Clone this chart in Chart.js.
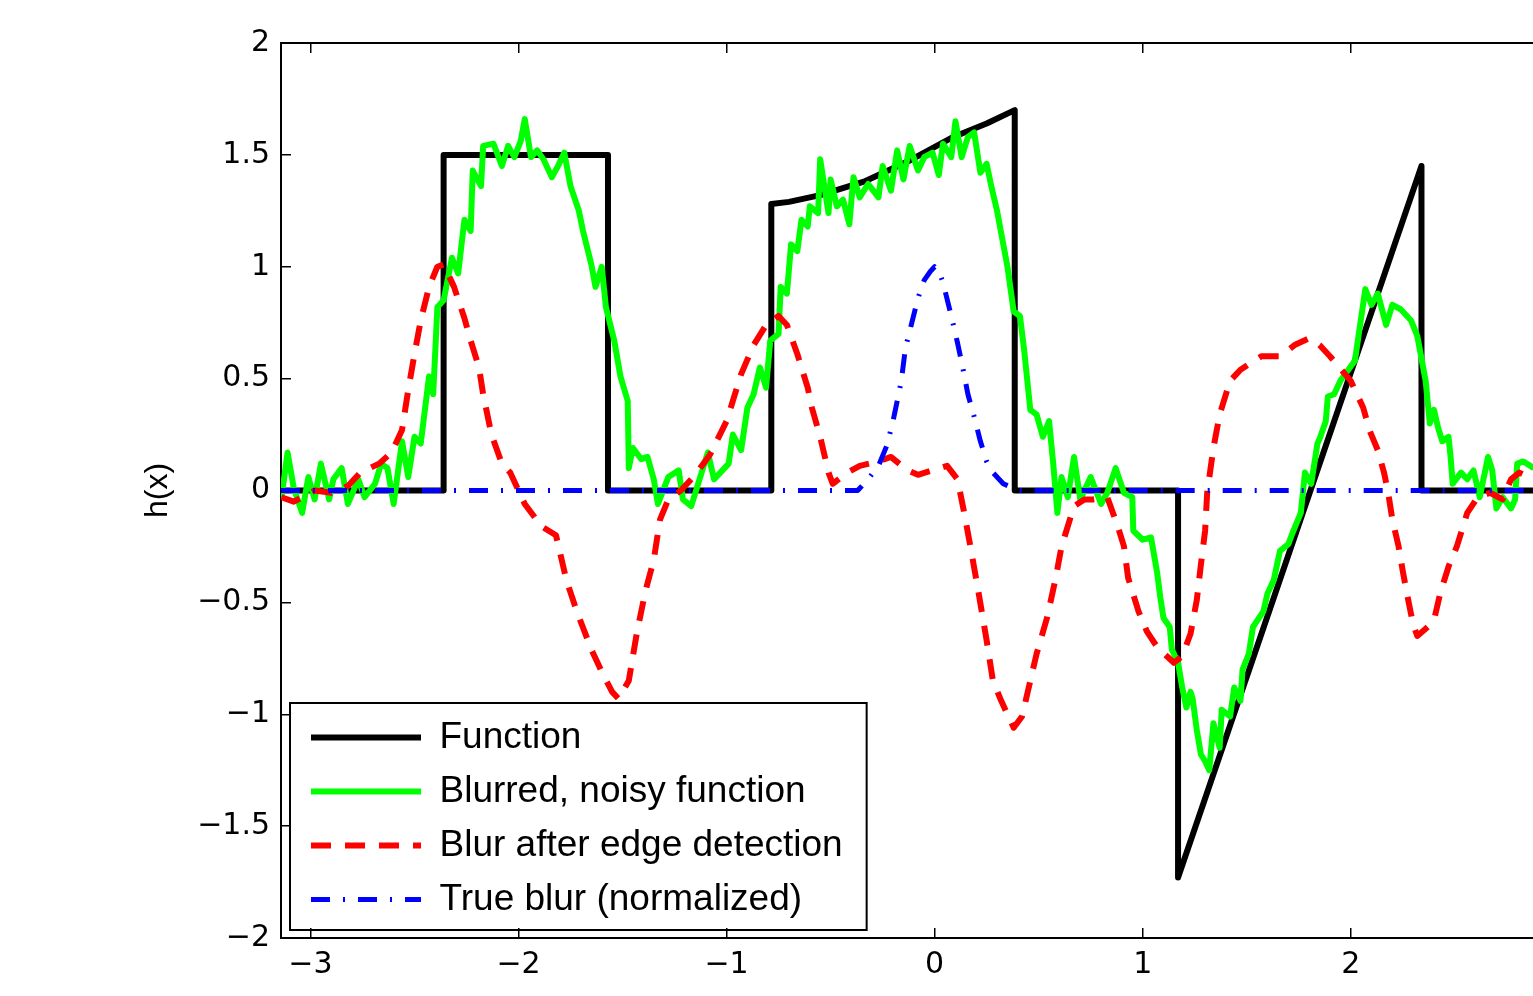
<!DOCTYPE html>
<html>
<head>
<meta charset="utf-8">
<title>Blur and edge detection</title>
<script src="https://cdn.jsdelivr.net/npm/chart.js@4.4.1/dist/chart.umd.min.js"></script>
<style>
    html, body { margin: 0; padding: 0; background: #fff; overflow: hidden; }
    #wrap { position: relative; width: 1533px; height: 996px; }
</style>
</head>
<body>
<div id="wrap"><canvas id="chart"></canvas></div>
<script>
// Axis range: the frame starts at -pi, the window crops it on the right
const xMin = -Math.PI;
const xMax = 2.876;
const xTicks = [-3, -2, -1, 0, 1, 2];
const yTicks = [-2, -1.5, -1, -0.5, 0, 0.5, 1, 1.5, 2];

const seriesNames = ['Function', 'Blurred, noisy function', 'Blur after edge detection', 'True blur (normalized)'];

// Function (piecewise)
const funcX = [-3.1416, -2.36, -2.36, -1.57, -1.57, -0.785, -0.785, -0.70, -0.55, -0.34, -0.13, 0.09, 0.25, 0.385, 0.385, 1.17, 1.17, 2.34, 2.34, 3.1416];
const funcY = [0, 0, 1.5, 1.5, 0, 0, 1.28, 1.29, 1.32, 1.38, 1.47, 1.58, 1.64, 1.70, 0, 0, -1.73, 1.45, 0, 0];

// Blurred, noisy function
const noisyX = [-3.14, -3.11, -3.08, -3.04, -3.01, -2.98, -2.95, -2.91, -2.89, -2.85, -2.82, -2.77, -2.74, -2.69, -2.66, -2.63, -2.60, -2.56, -2.53, -2.50,
    -2.47, -2.43, -2.41, -2.39, -2.36, -2.32, -2.29, -2.26, -2.23, -2.22, -2.18, -2.17, -2.12, -2.08, -2.05, -2.02, -1.99, -1.97, -1.94, -1.91,
    -1.88, -1.84, -1.81, -1.78, -1.75, -1.71, -1.69, -1.65, -1.63, -1.60, -1.58, -1.54, -1.51, -1.475, -1.47, -1.45, -1.41, -1.38, -1.35, -1.33,
    -1.28, -1.23, -1.21, -1.17, -1.12, -1.09, -1.06, -1.03, -0.99, -0.97, -0.93, -0.90, -0.87, -0.84, -0.81, -0.79, -0.75, -0.74, -0.71, -0.69,
    -0.66, -0.64, -0.61, -0.60, -0.56, -0.55, -0.51, -0.50, -0.47, -0.44, -0.41, -0.39, -0.36, -0.32, -0.27, -0.25, -0.21, -0.18, -0.15, -0.12,
    -0.08, -0.05, -0.01, 0.02, 0.04, 0.08, 0.10, 0.13, 0.16, 0.19, 0.22, 0.25, 0.27, 0.30, 0.32, 0.35, 0.38, 0.41, 0.43, 0.46,
    0.49, 0.52, 0.55, 0.57, 0.59, 0.61, 0.64, 0.67, 0.70, 0.75, 0.80, 0.83, 0.87, 0.91, 0.95, 0.955, 1.00, 1.04, 1.07, 1.085,
    1.10, 1.13, 1.14, 1.17, 1.19, 1.21, 1.23, 1.24, 1.26, 1.28, 1.30, 1.32, 1.34, 1.37, 1.38, 1.42, 1.44, 1.47, 1.48, 1.51,
    1.53, 1.58, 1.60, 1.63, 1.66, 1.70, 1.72, 1.76, 1.77, 1.78, 1.81, 1.84, 1.85, 1.88, 1.89, 1.92, 1.95, 2.02, 2.07, 2.10,
    2.13, 2.17, 2.20, 2.24, 2.29, 2.32, 2.36, 2.38, 2.40, 2.42, 2.44, 2.47, 2.48, 2.49, 2.53, 2.56, 2.59, 2.62, 2.66, 2.68,
    2.70, 2.73, 2.77, 2.79, 2.80, 2.83, 2.88];
const noisyY = [-0.04, 0.17, 0.01, -0.10, 0.06, -0.04, 0.12, -0.04, 0.05, 0.10, -0.06, 0.05, -0.03, 0.03, 0.12, 0.10, -0.06, 0.22, 0.06, 0.24,
    0.21, 0.51, 0.43, 0.82, 0.85, 1.04, 0.97, 1.21, 1.16, 1.43, 1.36, 1.54, 1.55, 1.45, 1.54, 1.49, 1.56, 1.66, 1.49, 1.52,
    1.48, 1.40, 1.45, 1.51, 1.36, 1.25, 1.16, 1.01, 0.91, 1.00, 0.82, 0.67, 0.51, 0.40, 0.10, 0.19, 0.14, 0.15, 0.05, -0.06,
    0.06, 0.09, -0.04, -0.07, 0.08, 0.17, 0.05, 0.08, 0.12, 0.25, 0.18, 0.37, 0.43, 0.55, 0.46, 0.67, 0.70, 0.91, 0.88, 1.10,
    1.07, 1.21, 1.18, 1.27, 1.24, 1.48, 1.24, 1.39, 1.27, 1.30, 1.19, 1.40, 1.31, 1.37, 1.31, 1.45, 1.34, 1.52, 1.39, 1.54,
    1.43, 1.49, 1.51, 1.41, 1.55, 1.49, 1.65, 1.49, 1.58, 1.60, 1.42, 1.46, 1.37, 1.25, 1.15, 1.00, 0.80, 0.78, 0.63, 0.36,
    0.34, 0.24, 0.31, 0.12, -0.10, 0.06, -0.03, 0.15, -0.04, 0.06, -0.06, -0.01, 0.10, -0.01, -0.03, -0.18, -0.22, -0.21, -0.37, -0.48,
    -0.57, -0.61, -0.71, -0.77, -0.88, -0.97, -0.90, -0.93, -1.07, -1.18, -1.21, -1.25, -1.04, -1.15, -0.98, -1.01, -0.88, -0.94, -0.80, -0.73,
    -0.61, -0.54, -0.46, -0.40, -0.27, -0.24, -0.19, -0.10, -0.01, 0.08, 0.03, 0.21, 0.23, 0.31, 0.42, 0.43, 0.49, 0.58, 0.90, 0.83,
    0.88, 0.74, 0.83, 0.81, 0.76, 0.69, 0.49, 0.30, 0.36, 0.28, 0.22, 0.24, 0.15, 0.03, 0.08, 0.05, 0.09, -0.03, 0.15, 0.09,
    -0.08, -0.03, -0.08, -0.04, 0.12, 0.13, 0.10];

// Blur after edge detection
const edgeX = [-3.14, -3.08, -2.98, -2.90, -2.82, -2.76, -2.67, -2.61, -2.56, -2.53, -2.50, -2.47, -2.43, -2.39, -2.36, -2.31, -2.26, -2.23, -2.19, -2.17,
    -2.13, -2.08, -2.04, -1.97, -1.89, -1.82, -1.77, -1.72, -1.65, -1.60, -1.55, -1.52, -1.47, -1.43, -1.39, -1.35, -1.32, -1.28, -1.22, -1.15,
    -1.08, -1.00, -0.93, -0.87, -0.81, -0.75, -0.71, -0.66, -0.61, -0.59, -0.55, -0.51, -0.49, -0.42, -0.36, -0.27, -0.21, -0.13, -0.08, -0.01,
    0.06, 0.11, 0.14, 0.17, 0.21, 0.25, 0.28, 0.32, 0.38, 0.42, 0.45, 0.49, 0.54, 0.58, 0.61, 0.63, 0.67, 0.72, 0.76, 0.83,
    0.88, 0.91, 0.93, 0.98, 1.02, 1.07, 1.15, 1.19, 1.23, 1.26, 1.28, 1.30, 1.31, 1.34, 1.37, 1.42, 1.47, 1.57, 1.66, 1.73,
    1.80, 1.85, 1.90, 2.00, 2.06, 2.09, 2.13, 2.16, 2.18, 2.20, 2.23, 2.25, 2.27, 2.30, 2.32, 2.37, 2.40, 2.43, 2.47, 2.51,
    2.56, 2.61, 2.67, 2.73, 2.77, 2.81, 2.88];
const edgeY = [-0.03, -0.05, 0.00, -0.01, 0.02, 0.08, 0.12, 0.17, 0.27, 0.45, 0.61, 0.76, 0.91, 1.00, 1.01, 0.91, 0.77, 0.67, 0.55, 0.43,
    0.25, 0.12, 0.08, -0.06, -0.16, -0.20, -0.40, -0.54, -0.71, -0.81, -0.90, -0.93, -0.85, -0.63, -0.45, -0.31, -0.13, -0.04, 0.00, 0.07,
    0.16, 0.31, 0.52, 0.65, 0.74, 0.78, 0.74, 0.61, 0.46, 0.37, 0.24, 0.08, 0.03, 0.08, 0.11, 0.13, 0.15, 0.09, 0.07, 0.09,
    0.11, 0.05, -0.09, -0.24, -0.45, -0.67, -0.85, -0.94, -1.06, -1.01, -0.89, -0.73, -0.57, -0.40, -0.25, -0.19, -0.07, -0.04, -0.04, -0.03,
    -0.16, -0.25, -0.39, -0.54, -0.63, -0.70, -0.77, -0.74, -0.64, -0.49, -0.33, -0.18, -0.01, 0.19, 0.34, 0.49, 0.54, 0.60, 0.60, 0.65,
    0.68, 0.65, 0.60, 0.49, 0.37, 0.27, 0.18, 0.08, -0.01, -0.13, -0.25, -0.36, -0.46, -0.60, -0.65, -0.61, -0.58, -0.46, -0.34, -0.25,
    -0.10, -0.03, -0.01, -0.04, 0.05, 0.08, 0.05];

// True blur (normalized)
const blurX = [-3.1416, -0.37, -0.32, -0.27, -0.23, -0.20, -0.16, -0.14, -0.115, -0.08, -0.05, -0.02, 0.00, 0.02, 0.04, 0.08, 0.11, 0.135, 0.16, 0.19,
    0.22, 0.25, 0.28, 0.33, 0.38, 0.41, 3.1416];
const blurY = [0, 0, 0.05, 0.11, 0.20, 0.31, 0.49, 0.64, 0.73, 0.86, 0.94, 0.98, 1.00, 0.98, 0.93, 0.78, 0.66, 0.55, 0.43, 0.33,
    0.22, 0.13, 0.08, 0.03, 0.01, 0, 0];

const toPoints = (xs, ys) => xs.map((x, i) => ({ x: x, y: ys[i] }));
const minusSign = v => String(v).replace('-', '\u2212');

// legend sits in the lower left corner of the plot, framed like the original
const legendBox = {
    id: 'legendBox',
    afterLayout(chart) {
        const lg = chart.legend;
        const area = chart.chartArea;
        lg.left = area.left + 13;
        lg.right = area.right;
        lg.top = area.top;
        lg.bottom = area.bottom - 3;
    },
    afterDatasetsDraw(chart) {
        const lg = chart.legend;
        const area = chart.chartArea;
        const pad = lg.options.labels.padding;
        const colH = lg.columnSizes[0].height;
        const left = area.left + 9;
        const top = lg.bottom - colH - 16;
        const right = lg.left + pad + lg.columnSizes[0].width + 24;
        const bottom = area.bottom - 8;
        const ctx = chart.ctx;
        ctx.save();
        ctx.strokeStyle = '#000';
        ctx.lineWidth = 2;
        ctx.strokeRect(left, top, right - left, bottom - top);
        ctx.restore();
    }
};

// point-style legend items lose the dataset's dash, so copy it back
function legendLabels(chart) {
    const items = Chart.defaults.plugins.legend.labels.generateLabels(chart);
    return items.map(item => {
        const ds = chart.data.datasets[item.datasetIndex];
        item.lineDash = ds.borderDash || [];
        item.lineWidth = ds.borderWidth;
        item.strokeStyle = ds.borderColor;
        item.lineCap = 'butt';
        return item;
    });
}

const tickFont = { family: 'DejaVu Sans', size: 30 };

new Chart(document.getElementById('chart'), {
    type: 'line',
    data: {
        // drawn back to front: blue ends up on top, as in the original
        datasets: [
            {
                label: seriesNames[3],
                data: toPoints(blurX, blurY),
                borderColor: '#0000ff',
                backgroundColor: '#0000ff',
                borderWidth: 5,
                borderDash: [19, 13, 2, 13]
            },
            {
                label: seriesNames[2],
                data: toPoints(edgeX, edgeY),
                borderColor: '#ff0000',
                backgroundColor: '#ff0000',
                borderWidth: 6,
                borderDash: [20, 14]
            },
            {
                label: seriesNames[1],
                data: toPoints(noisyX, noisyY),
                borderColor: '#00ff00',
                backgroundColor: '#00ff00',
                borderWidth: 6
            },
            {
                label: seriesNames[0],
                data: toPoints(funcX, funcY),
                borderColor: '#000000',
                backgroundColor: '#000000',
                borderWidth: 6
            }
        ]
    },
    options: {
        responsive: true,
        maintainAspectRatio: false,
        animation: false,
        devicePixelRatio: 1,
        layout: { padding: { left: 139, top: 43, right: 0, bottom: 0 } },
        elements: {
            point: { radius: 0, hoverRadius: 0 },
            line: { tension: 0, borderJoinStyle: 'round', borderCapStyle: 'butt', fill: false }
        },
        plugins: {
            tooltip: { enabled: false },
            legend: {
                position: 'chartArea',
                align: 'end',
                reverse: true,
                labels: {
                    usePointStyle: true,
                    pointStyle: 'line',
                    pointStyleWidth: 110,
                    padding: 17,
                    color: '#000',
                    font: { family: 'Liberation Sans', size: 37 },
                    generateLabels: legendLabels
                }
            }
        },
        scales: {
            x: {
                type: 'linear',
                position: 'bottom',
                min: xMin,
                max: xMax,
                afterBuildTicks: s => { s.ticks = xTicks.map(v => ({ value: v })); },
                afterFit: s => { s.height = 58; },
                ticks: { color: '#000', font: tickFont, padding: 19, maxRotation: 0, callback: minusSign },
                grid: { drawOnChartArea: false, drawTicks: true, tickLength: -10, color: '#000', lineWidth: 1.5 },
                border: { display: true, color: '#000', width: 2 }
            },
            xTop: {
                type: 'linear',
                position: 'top',
                min: xMin,
                max: xMax,
                afterBuildTicks: s => { s.ticks = xTicks.map(v => ({ value: v })); },
                afterFit: s => { s.height = 0; },
                ticks: { display: false },
                grid: { drawOnChartArea: false, drawTicks: true, tickLength: -10, color: '#000', lineWidth: 1.5 },
                border: { display: true, color: '#000', width: 2 }
            },
            y: {
                type: 'linear',
                min: -2,
                max: 2,
                afterBuildTicks: s => { s.ticks = yTicks.map(v => ({ value: v })); },
                afterFit: s => { s.width = 142; },
                ticks: { color: '#000', font: tickFont, padding: 21, callback: minusSign },
                grid: { drawOnChartArea: false, drawTicks: true, tickLength: -10, color: '#000', lineWidth: 1.5 },
                border: { display: true, color: '#000', width: 2 },
                title: {
                    display: true,
                    text: 'h(x)',
                    color: '#000',
                    padding: 0,
                    font: { family: 'Liberation Sans', size: 32 }
                }
            }
        }
    },
    plugins: [legendBox]
});
</script>
</body>
</html>
